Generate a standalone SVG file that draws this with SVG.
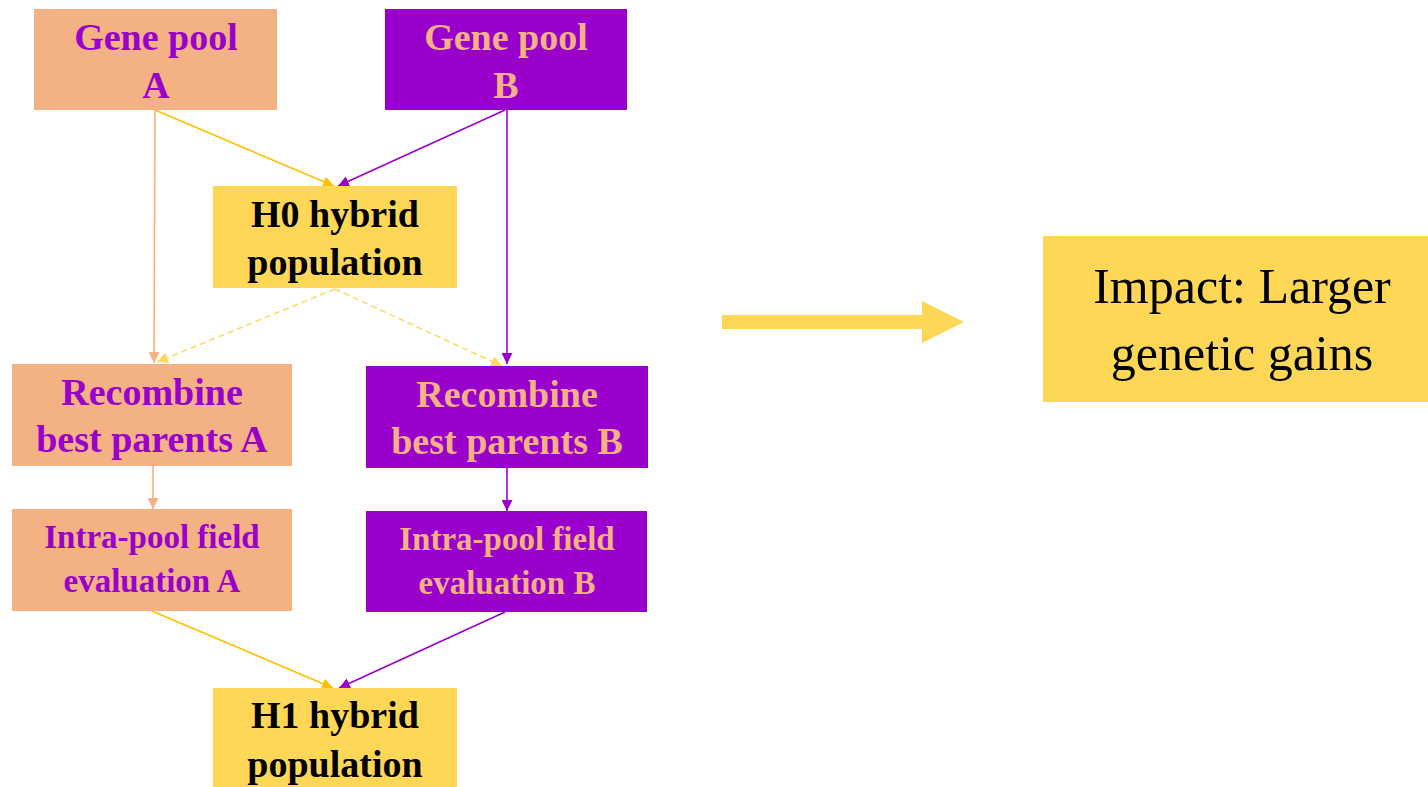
<svg xmlns="http://www.w3.org/2000/svg" width="1428" height="787" viewBox="0 0 1428 787">
<style>
.peach{fill:#F4B183}
.purple{fill:#9900CC}
.yellow{fill:#FFD756}
.t{font-family:"Liberation Serif",serif;font-weight:bold;text-anchor:middle}
.big{font-size:38px}
.mid{font-size:33px}
.tp{fill:#9900CC}
.to{fill:#F4B183}
.tk{fill:#000}
.imp{font-family:"Liberation Serif",serif;font-size:50px;text-anchor:middle;fill:#000}
.ln{fill:none;stroke-width:1.6}
</style>
<defs>
<marker id="mY" viewBox="0 0 10 10" refX="10" refY="5" markerWidth="11" markerHeight="11" markerUnits="userSpaceOnUse" orient="auto"><path d="M0,0 L10,5 L0,10 z" fill="#FFC000"/></marker>
<marker id="mP" viewBox="0 0 10 10" refX="10" refY="5" markerWidth="11" markerHeight="11" markerUnits="userSpaceOnUse" orient="auto"><path d="M0,0 L10,5 L0,10 z" fill="#9900CC"/></marker>
<marker id="mO" viewBox="0 0 10 10" refX="10" refY="5" markerWidth="11" markerHeight="11" markerUnits="userSpaceOnUse" orient="auto"><path d="M0,0 L10,5 L0,10 z" fill="#F4B183"/></marker>
<marker id="mD" viewBox="0 0 10 10" refX="10" refY="5" markerWidth="11" markerHeight="11" markerUnits="userSpaceOnUse" orient="auto"><path d="M0,0 L10,5 L0,10 z" fill="#FFD966"/></marker>
</defs>
<rect width="1428" height="787" fill="#FFFFFF"/>
<g id="connectors">
<line class="ln" x1="155" y1="110" x2="334" y2="186" stroke="#FFC000" marker-end="url(#mY)"/>
<line class="ln" x1="505" y1="110" x2="338" y2="186" stroke="#9900CC" marker-end="url(#mP)"/>
<line class="ln" x1="155" y1="110" x2="154" y2="363" stroke="#F4B183" marker-end="url(#mO)"/>
<line class="ln" x1="507" y1="110" x2="507" y2="364" stroke="#9900CC" marker-end="url(#mP)"/>
<line class="ln" x1="335" y1="289" x2="157" y2="362" stroke="#FFD966" stroke-dasharray="6,4" marker-end="url(#mD)"/>
<line class="ln" x1="335" y1="289" x2="502" y2="366" stroke="#FFD966" stroke-dasharray="6,4" marker-end="url(#mD)"/>
<line class="ln" x1="153" y1="466" x2="153" y2="509" stroke="#F4B183" marker-end="url(#mO)"/>
<line class="ln" x1="507" y1="468" x2="507" y2="511" stroke="#9900CC" marker-end="url(#mP)"/>
<line class="ln" x1="152" y1="611" x2="333" y2="688" stroke="#FFC000" marker-end="url(#mY)"/>
<line class="ln" x1="505" y1="612" x2="339" y2="688" stroke="#9900CC" marker-end="url(#mP)"/>
<path d="M722,315 L922,315 L922,301 L964,322 L922,343 L922,329 L722,329 z" fill="#FFD756"/>
</g>
<g id="geneA">
<rect class="peach" x="34" y="9" width="243" height="101"/>
<text class="t big tp" x="156" y="50">Gene pool</text>
<text class="t big tp" x="156" y="98">A</text>
</g>
<g id="geneB">
<rect class="purple" x="385" y="9" width="242" height="101"/>
<text class="t big to" x="506" y="50">Gene pool</text>
<text class="t big to" x="506" y="98">B</text>
</g>
<g id="h0">
<rect class="yellow" x="213" y="186" width="244" height="102"/>
<text class="t big tk" x="335" y="227">H0 hybrid</text>
<text class="t big tk" x="335" y="275">population</text>
</g>
<g id="recA">
<rect class="peach" x="12" y="364" width="280" height="102"/>
<text class="t big tp" x="152" y="405">Recombine</text>
<text class="t big tp" x="152" y="452">best parents A</text>
</g>
<g id="recB">
<rect class="purple" x="366" y="366" width="282" height="102"/>
<text class="t big to" x="507" y="407">Recombine</text>
<text class="t big to" x="507" y="454">best parents B</text>
</g>
<g id="intraA">
<rect class="peach" x="12" y="509" width="280" height="102"/>
<text class="t mid tp" x="152" y="548">Intra-pool field</text>
<text class="t mid tp" x="152" y="592">evaluation A</text>
</g>
<g id="intraB">
<rect class="purple" x="366" y="511" width="281" height="101"/>
<text class="t mid to" x="507" y="550">Intra-pool field</text>
<text class="t mid to" x="507" y="594">evaluation B</text>
</g>
<g id="h1">
<rect class="yellow" x="213" y="688" width="244" height="102"/>
<text class="t big tk" x="335" y="728">H1 hybrid</text>
<text class="t big tk" x="335" y="777">population</text>
</g>
<g id="impact">
<rect class="yellow" x="1043" y="236" width="385" height="166"/>
<text class="imp" x="1242" y="303">Impact: Larger</text>
<text class="imp" x="1242" y="370">genetic gains</text>
</g>
</svg>
